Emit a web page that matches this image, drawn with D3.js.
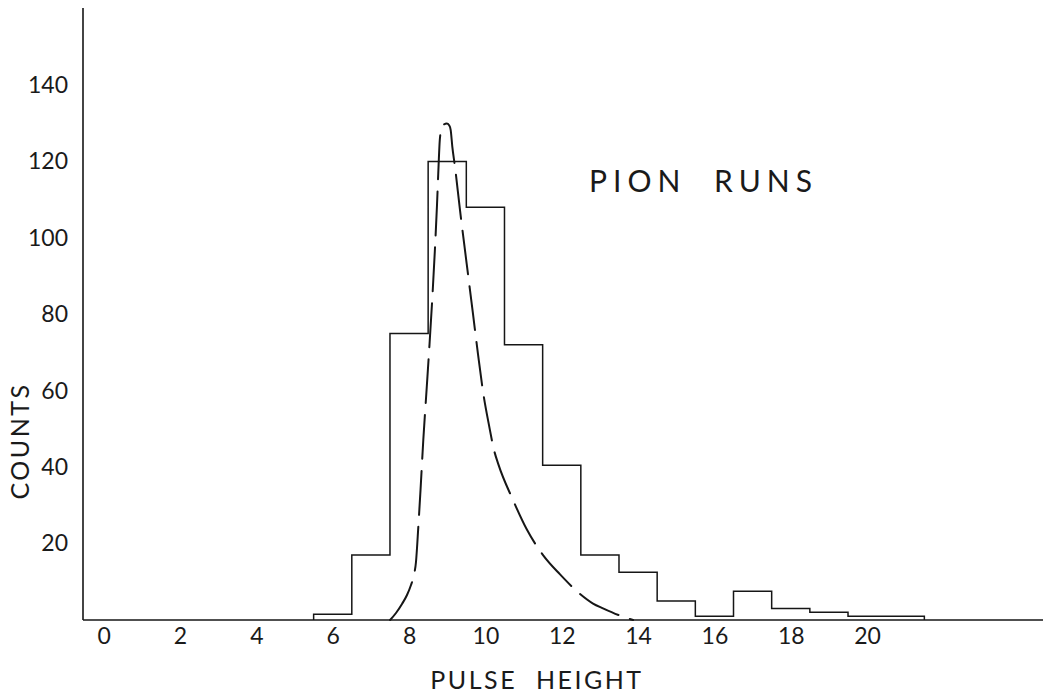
<!DOCTYPE html>
<html>
<head>
<meta charset="utf-8">
<script src="https://cdn.jsdelivr.net/npm/d3@7"></script>
<style>
  html, body { margin: 0; padding: 0; background: #fff; }
  svg { display: block; }
  text { font-family: Lato, "Open Sans", "DejaVu Sans", sans-serif; font-weight: 400; fill: #1a1a1a; }
</style>
</head>
<body>
<svg id="chart" width="1043" height="693"></svg>
<script>
// Pulse-height histogram (bins one unit wide, centred on integers)
const binCenters = [6, 7, 8, 9, 10, 11, 12, 13, 14, 15, 16, 17, 18, 19, 20, 21];
const binCounts  = [1.5, 17, 75, 120, 108, 72, 40.5, 17, 12.5, 5, 1, 7.5, 3, 2, 1, 1];

// Dashed curve (expected distribution), read as points along the trace
const curveX = [7.503, 7.658, 7.815, 7.946, 8.051, 8.129, 8.182, 8.242, 8.300, 8.373, 8.462, 8.535,
                8.606, 8.674, 8.732, 8.774, 8.805, 8.850, 8.915, 8.986, 9.054, 9.091, 9.133, 9.203,
                9.334, 9.510, 9.675, 9.806, 9.945, 10.094, 10.225, 10.338, 10.723, 11.09, 11.51,
                11.95, 12.48, 12.82, 13.08, 13.52, 13.87];
const curveY = [0, 1.83, 4.19, 6.54, 9.16, 11.78, 15.25, 24.3, 34.0, 47.1, 60.7, 72.0,
                83.7, 96.3, 108.6, 119.1, 125.6, 128.5, 129.7, 129.9, 129.4, 128.2, 123.9, 118.6,
                107.3, 93.2, 80.1, 69.6, 59.3, 51.0, 44.5, 40.8, 31.4, 23.6, 17.0,
                12.0, 6.8, 4.3, 3.06, 1.18, 0];

// Axis tick labels
const xTickValues = [0, 2, 4, 6, 8, 10, 12, 14, 16, 18, 20];
const xTickLabels = ["0", "2", "4", "6", "8", "10", "12", "14", "16", "18", "20"];
const yTickValues = [20, 40, 60, 80, 100, 120, 140];
const yTickLabels = ["20", "40", "60", "80", "100", "120", "140"];

const W = 1043, H = 693;
const svg = d3.select("#chart");

const x = d3.scaleLinear().domain([0, 20]).range([103.7, 867.1]);
const y = d3.scaleLinear().domain([0, 140]).range([620, 85]);

const axisLeftX = 83;
const ink = "#161616";

// Histogram outline as a step path
const histPts = [{ x: binCenters[0] - 0.5, y: 0 }];
binCenters.forEach((c, i) => histPts.push({ x: c - 0.5, y: binCounts[i] }));
const last = binCenters.length - 1;
histPts.push({ x: binCenters[last] + 0.5, y: binCounts[last] });
histPts.push({ x: binCenters[last] + 0.5, y: 0 });

const stepLine = d3.line().x(d => x(d.x)).y(d => y(d.y)).curve(d3.curveStepAfter);
svg.append("path")
  .attr("d", stepLine(histPts))
  .attr("fill", "none")
  .attr("stroke", ink)
  .attr("stroke-width", 1.5)
  .attr("stroke-linejoin", "miter");

// Dashed curve
const curvePts = curveX.map((v, i) => ({ x: v, y: curveY[i] }));
const smooth = d3.line().x(d => x(d.x)).y(d => y(d.y)).curve(d3.curveMonotoneX);
svg.append("path")
  .attr("d", smooth(curvePts))
  .attr("fill", "none")
  .attr("stroke", ink)
  .attr("stroke-width", 2)
  .attr("stroke-dasharray", "44,12")
  .attr("stroke-linecap", "round");

// Axis lines
svg.append("line")
  .attr("x1", axisLeftX).attr("x2", axisLeftX)
  .attr("y1", 8).attr("y2", y(0))
  .attr("stroke", ink).attr("stroke-width", 1.6);
svg.append("line")
  .attr("x1", axisLeftX).attr("x2", W)
  .attr("y1", y(0)).attr("y2", y(0))
  .attr("stroke", ink).attr("stroke-width", 1.6);

// Tick labels (no tick marks)
const xAxis = d3.axisBottom(x)
  .tickValues(xTickValues)
  .tickFormat((d, i) => xTickLabels[i])
  .tickSize(0)
  .tickPadding(8);
const gx = svg.append("g").attr("transform", `translate(0,${y(0)})`).call(xAxis);
gx.select(".domain").remove();
gx.selectAll("text")
  .attr("font-size", 23)
  .attr("dy", "0.71em");

const yAxis = d3.axisLeft(y)
  .tickValues(yTickValues)
  .tickFormat((d, i) => yTickLabels[i])
  .tickSize(0)
  .tickPadding(15);
const gy = svg.append("g").attr("transform", `translate(${axisLeftX},0)`).call(yAxis);
gy.select(".domain").remove();
gy.selectAll("text")
  .attr("font-size", 23);
svg.selectAll(".tick text").attr("fill", "#1a1a1a");
svg.selectAll("g").attr("font-family", null);

// Axis titles
svg.append("text")
  .attr("transform", "translate(19,441) rotate(-90)")
  .attr("text-anchor", "middle")
  .attr("dominant-baseline", "central")
  .attr("font-size", 25)
  .attr("letter-spacing", 2.5)
  .text("COUNTS");

svg.append("text")
  .attr("x", 537).attr("y", 689)
  .attr("text-anchor", "middle")
  .attr("font-size", 25)
  .attr("letter-spacing", 2.5)
  .attr("word-spacing", 10)
  .text("PULSE HEIGHT");

// Panel label
svg.append("text")
  .attr("x", 589).attr("y", 192)
  .attr("font-size", 30)
  .attr("letter-spacing", 6)
  .attr("word-spacing", 14)
  .text("PION RUNS");
</script>
</body>
</html>
